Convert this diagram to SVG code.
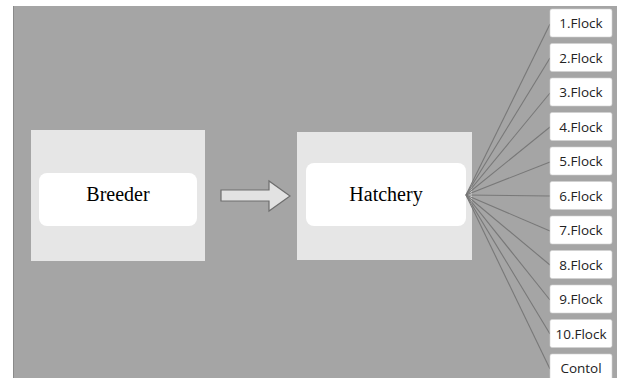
<svg xmlns="http://www.w3.org/2000/svg" width="621" height="378" viewBox="0 0 621 378">
<style>
.outer{fill:#e6e6e6}
.inner{fill:#ffffff}
.main{font-family:"Liberation Serif",serif;font-size:20px;fill:#000000;text-anchor:middle}
.fbox{fill:#ffffff;stroke:#d0d0d0;stroke-width:0.6}
.ftext{font-family:"Open Sans","Liberation Sans",sans-serif;font-size:13.5px;fill:#222;text-anchor:middle}
.conn{stroke:#787878;stroke-width:1.1;fill:none}
</style>
<rect x="0" y="0" width="621" height="378" fill="#ffffff"/>
<rect x="13" y="6" width="604" height="372" fill="#a5a5a5"/>
<line x1="13.5" y1="6" x2="13.5" y2="378" stroke="#8a8a8a" stroke-width="1"/>
<g id="breeder">
<rect class="outer" x="31" y="130" width="174" height="131"/>
<rect class="inner" x="39" y="173" width="158" height="53" rx="8"/>
<text class="main" x="118" y="201">Breeder</text>
</g>
<g id="arrow">
<path d="M221,190 H269 V181 L290,196 L269,211 V201 H221 Z" fill="#e2e2e2" stroke="#6e6e6e" stroke-width="1.2"/>
</g>
<g id="hatchery">
<rect class="outer" x="297" y="132" width="175" height="128"/>
<rect class="inner" x="306" y="163" width="160" height="63" rx="8"/>
<text class="main" x="386" y="201">Hatchery</text>
</g>
<g id="connectors">
<line class="conn" x1="466" y1="195" x2="550" y2="24"/>
<line class="conn" x1="466" y1="195" x2="550" y2="58"/>
<line class="conn" x1="466" y1="195" x2="550" y2="93"/>
<line class="conn" x1="466" y1="195" x2="550" y2="127"/>
<line class="conn" x1="466" y1="195" x2="550" y2="162"/>
<line class="conn" x1="466" y1="195" x2="550" y2="196"/>
<line class="conn" x1="466" y1="195" x2="550" y2="231"/>
<line class="conn" x1="466" y1="195" x2="550" y2="265"/>
<line class="conn" x1="466" y1="195" x2="550" y2="300"/>
<line class="conn" x1="466" y1="195" x2="550" y2="334"/>
<line class="conn" x1="466" y1="195" x2="550" y2="369"/>
</g>
<g id="flock1"><rect class="fbox" x="550" y="9" width="62" height="28" rx="2"/><text class="ftext" x="581" y="28">1.Flock</text></g>
<g id="flock2"><rect class="fbox" x="550" y="43.5" width="62" height="28" rx="2"/><text class="ftext" x="581" y="62.5">2.Flock</text></g>
<g id="flock3"><rect class="fbox" x="550" y="78" width="62" height="28" rx="2"/><text class="ftext" x="581" y="97">3.Flock</text></g>
<g id="flock4"><rect class="fbox" x="550" y="112.5" width="62" height="28" rx="2"/><text class="ftext" x="581" y="131.5">4.Flock</text></g>
<g id="flock5"><rect class="fbox" x="550" y="147" width="62" height="28" rx="2"/><text class="ftext" x="581" y="166">5.Flock</text></g>
<g id="flock6"><rect class="fbox" x="550" y="181.5" width="62" height="28" rx="2"/><text class="ftext" x="581" y="200.5">6.Flock</text></g>
<g id="flock7"><rect class="fbox" x="550" y="216" width="62" height="28" rx="2"/><text class="ftext" x="581" y="235">7.Flock</text></g>
<g id="flock8"><rect class="fbox" x="550" y="250.5" width="62" height="28" rx="2"/><text class="ftext" x="581" y="269.5">8.Flock</text></g>
<g id="flock9"><rect class="fbox" x="550" y="285" width="62" height="28" rx="2"/><text class="ftext" x="581" y="304">9.Flock</text></g>
<g id="flock10"><rect class="fbox" x="550" y="319.5" width="62" height="28" rx="2"/><text class="ftext" x="581" y="338.5">10.Flock</text></g>
<g id="control"><rect class="fbox" x="550" y="354" width="62" height="28" rx="2"/><text class="ftext" x="581" y="373">Contol</text></g>
</svg>
